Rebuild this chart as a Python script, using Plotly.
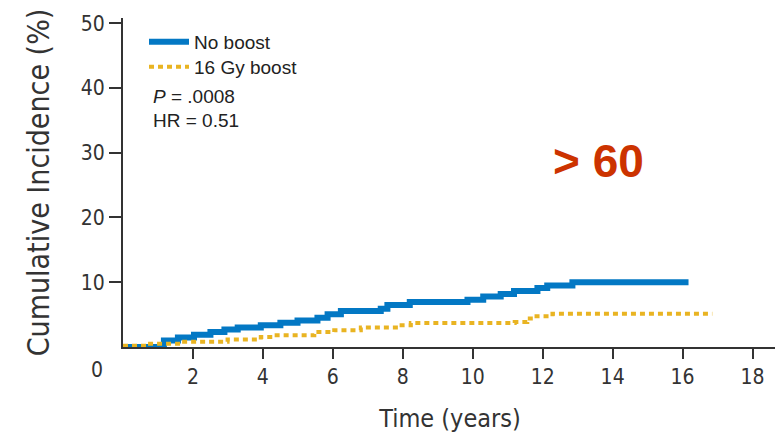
import plotly.graph_objects as go

# No boost (blue) step curve
t_noboost = [0, 1.17, 1.57, 2.03, 2.5, 2.9, 3.28, 3.94, 4.5, 4.99, 5.56, 5.85, 6.23, 7.37, 7.56, 8.2, 9.85, 10.3, 10.8, 11.18, 11.85, 12.13, 12.85, 16.17]
ci_noboost = [0.0, 1.0, 1.45, 1.9, 2.3, 2.7, 3.0, 3.35, 3.75, 4.1, 4.5, 5.05, 5.55, 5.9, 6.5, 6.95, 7.3, 7.8, 8.2, 8.65, 9.1, 9.5, 10.0, 10.0]

# 16 Gy boost (yellow) step curve
t_boost = [0, 0.7, 1.66, 2.99, 3.94, 4.3, 5.47, 6.04, 6.8, 7.9, 8.23, 11.2, 11.56, 11.75, 12.28, 16.85]
ci_boost = [0.2, 0.5, 0.8, 1.15, 1.55, 1.8, 2.3, 2.6, 3.0, 3.35, 3.7, 3.85, 4.4, 4.75, 5.15, 5.15]

x_ticks = [2, 4, 6, 8, 10, 12, 14, 16, 18]
y_ticks = [10, 20, 30, 40, 50]

NARROW = "DejaVu Sans Condensed, Liberation Sans Narrow, Arial Narrow, sans-serif"
SANS = "Liberation Sans, Arial, sans-serif"

# page body has an 8px default margin: compensate in figure margins
fig = go.Figure()
fig.add_trace(go.Scatter(x=t_noboost, y=ci_noboost, mode="lines", line_shape="hv",
                         name="No boost", legend="legend",
                         line=dict(color="#0378C4", width=6)))
fig.add_trace(go.Scatter(x=t_boost, y=ci_boost, mode="lines", line_shape="hv",
                         name="16 Gy boost", legend="legend2",
                         line=dict(color="#E9B422", width=4, dash="5px,4px")))

PW, PH = 654, 329
TOP = 18  # screen y of plot top
fig.add_annotation(x=-26/PW, xref="paper", y=-23/PH, yref="paper", text="0", showarrow=False,
                   font=dict(family=NARROW, size=21, color="#333333"), xanchor="center", yanchor="middle")
fig.add_annotation(x=28/PW, xref="paper", y=1-(97-TOP)/PH, yref="paper", text="<i>P</i> = .0008",
                   showarrow=False, xanchor="left", yanchor="middle",
                   font=dict(family=SANS, size=19, color="#222222"))
fig.add_annotation(x=28/PW, xref="paper", y=1-(120-TOP)/PH, yref="paper", text="HR = 0.51",
                   showarrow=False, xanchor="left", yanchor="middle",
                   font=dict(family=SANS, size=19, color="#222222"))
fig.add_annotation(x=13.6, y=28.7, text="<b>> 60</b>", showarrow=False,
                   font=dict(family=SANS, size=46, color="#CC3300"))

leg_common = dict(xanchor="left", yanchor="middle", bgcolor="rgba(0,0,0,0)",
                  font=dict(family=SANS, size=19, color="#222222"), itemwidth=40)

fig.update_layout(
    width=783, height=442,
    margin=dict(l=115, r=14, t=10, b=103, autoexpand=False),
    plot_bgcolor="white", paper_bgcolor="white",
    showlegend=True,
    legend=dict(x=21/PW, y=1-(42-TOP)/PH, **leg_common),
    legend2=dict(x=21/PW, y=1-(67-TOP)/PH, **leg_common),
    xaxis=dict(range=[0, 18.7], tickvals=x_ticks, ticks="outside", ticklen=10, tickwidth=2,
               tickcolor="#333333", showline=True, linecolor="#333333", linewidth=2,
               showgrid=False, zeroline=False, automargin=False,
               tickfont=dict(family=NARROW, size=21, color="#333333"),
               title=dict(text="Time (years)", font=dict(family=NARROW, size=25, color="#333333"), standoff=21)),
    yaxis=dict(range=[0, 50.8], tickvals=y_ticks, ticks="outside", ticklen=12, tickwidth=2,
               tickcolor="#333333", showline=True, linecolor="#333333", linewidth=2,
               showgrid=False, zeroline=False, automargin=False,
               tickfont=dict(family=NARROW, size=21, color="#333333"),
               title=dict(text="Cumulative Incidence (%)", font=dict(family=NARROW, size=30, color="#333333"), standoff=22)),
)

fig.write_html("out.html")
